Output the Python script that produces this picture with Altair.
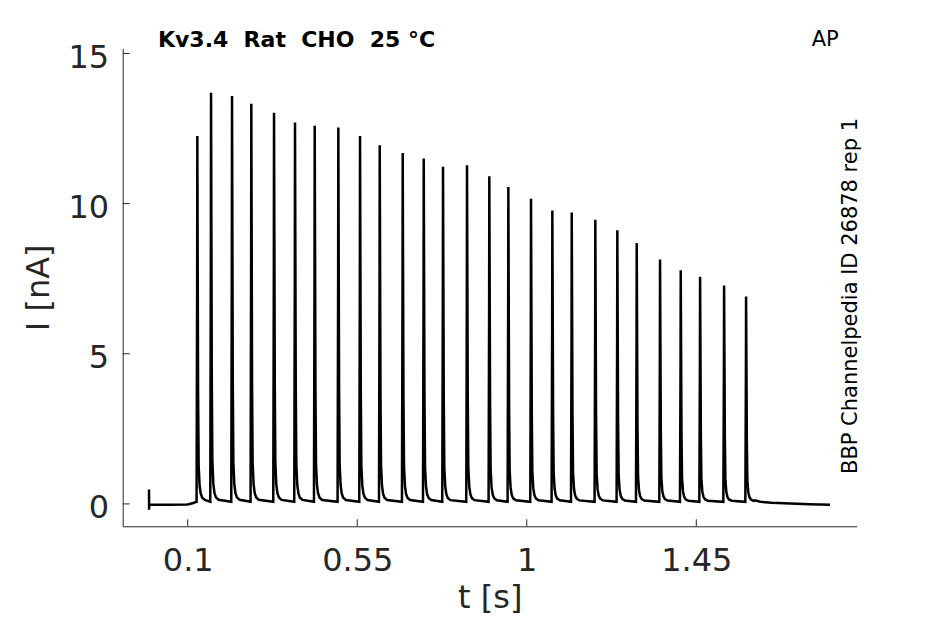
import altair as alt
import pandas as pd

# ---- data ----
spike_t = [0.1255, 0.1619, 0.2176, 0.2688, 0.3291, 0.3848, 0.4371, 0.4998, 0.5574,
           0.6097, 0.6707, 0.7265, 0.7777, 0.8414, 0.9006, 0.9511, 1.0113, 1.0679,
           1.1194, 1.1820, 1.2404, 1.2919, 1.3538, 1.4087, 1.4601, 1.5238, 1.5822]
spike_peak = [12.18, 13.62, 13.51, 13.25, 12.95, 12.63, 12.52, 12.46, 12.18,
              11.87, 11.61, 11.43, 11.16, 11.21, 10.84, 10.48, 10.09, 9.70,
              9.63, 9.39, 9.04, 8.62, 8.07, 7.71, 7.49, 7.20, 6.84]
# shape of one AP-evoked current transient (time offset [s], fraction of peak)
pulse_offset = [-0.002, -0.0005, 0.0, 0.0008, 0.002, 0.0035, 0.006, 0.009, 0.013, 0.02]
pulse_frac = [0.0, 0.6, 1.0, 0.72, 0.3, 0.1, 0.045, 0.022, 0.011, 0.005]
base_level = 0.07

pre_t = [-0.0027, -0.0026, -0.0020, 0.05, 0.10, 0.115, 0.1225]
pre_i = [0.48, -0.19, -0.03, -0.03, -0.02, 0.03, 0.07]
post_t = [1.605, 1.62, 1.65, 1.70, 1.75, 1.805]
post_i = [0.12, 0.07, 0.04, 0.01, -0.01, -0.03]

x_ticks = [0.1, 0.55, 1, 1.45]
y_ticks = [0, 5, 10, 15]

title_text = ["Kv3.4  Rat  CHO  25 °C"]
protocol_text = ["AP"]
source_text = ["BBP Channelpedia ID 26878 rep 1"]

# ---- build trace table ----
ts, vals = list(pre_t), list(pre_i)
for st, pk in zip(spike_t, spike_peak):
    for o, f in zip(pulse_offset, pulse_frac):
        ts.append(st + o)
        vals.append(base_level + f * pk)
ts += post_t
vals += post_i
df = pd.DataFrame({"t": ts, "I": vals})

W, H = 734, 478
FONT = "DejaVu Sans"
AX = "#262626"

xscale = alt.Scale(domain=[-0.0726, 1.8758], nice=False, zero=False)
yscale = alt.Scale(domain=[-0.745, 15.17], nice=False, zero=False)

line = alt.Chart(df).mark_line(color="black", strokeWidth=2.5).encode(
    x=alt.X("t:Q", scale=xscale,
            axis=alt.Axis(values=x_ticks, labelExpr="'' + datum.value", title="t [s]",
                          ticks=False, tickSize=0,
                          labelPadding=19.5, labelFontSize=32, labelFont=FONT, labelColor=AX,
                          titleFontSize=32, titleFont=FONT, titleFontWeight="normal", titleColor=AX,
                          titleBaseline="alphabetic", titleX=W / 2, titleY=81,
                          grid=False, domainColor=AX, domainWidth=1, labelFlush=False)),
    y=alt.Y("I:Q", scale=yscale,
            axis=alt.Axis(values=y_ticks, labelExpr="'' + datum.value", title="I [nA]",
                          ticks=False, tickSize=0,
                          labelPadding=14, labelOffset=4, labelFontSize=32, labelFont=FONT,
                          labelColor=AX, titleFontSize=32, titleFont=FONT,
                          titleFontWeight="normal", titleColor=AX, titleAngle=270,
                          titleBaseline="alphabetic", titleAlign="center",
                          titleX=-74.2, titleY=H / 2,
                          grid=False, domainColor=AX, domainWidth=1, labelFlush=False)),
)

xt = alt.Chart(pd.DataFrame({"t": x_ticks})).mark_rule(color=AX, strokeWidth=1).encode(
    x=alt.X("t:Q", scale=xscale), y=alt.value(H), y2=alt.value(H - 7))
yt = alt.Chart(pd.DataFrame({"I": y_ticks})).mark_rule(color=AX, strokeWidth=1).encode(
    y=alt.Y("I:Q", scale=yscale), x=alt.value(0), x2=alt.value(7))

nb = lambda s: s.replace(" ", "\u00a0")

ttl = alt.Chart(pd.DataFrame({"s": [nb(s) for s in title_text]})).mark_text(
    font=FONT, fontSize=22, fontWeight="bold", align="left", baseline="alphabetic",
    color="black").encode(text="s:N", x=alt.value(35.3), y=alt.value(-1.6))
ap = alt.Chart(pd.DataFrame({"s": protocol_text})).mark_text(
    font=FONT, fontSize=21, align="left", baseline="alphabetic",
    color="black").encode(text="s:N", x=alt.value(689), y=alt.value(-2.3))
src = alt.Chart(pd.DataFrame({"s": source_text})).mark_text(
    font=FONT, fontSize=21, align="left", baseline="alphabetic", angle=270,
    color="black").encode(text="s:N", x=alt.value(734.3), y=alt.value(425.7))

chart = alt.layer(line, xt, yt, ttl, ap, src).properties(
    width=W, height=H,
    background="white",
    autosize=alt.AutoSizeParams(type="none"),
    padding={"left": 114.7, "top": 40.3, "right": 70, "bottom": 89.5},
).configure_view(stroke=None)

chart.save("out.html", embed_options={"renderer": "svg", "actions": False})
